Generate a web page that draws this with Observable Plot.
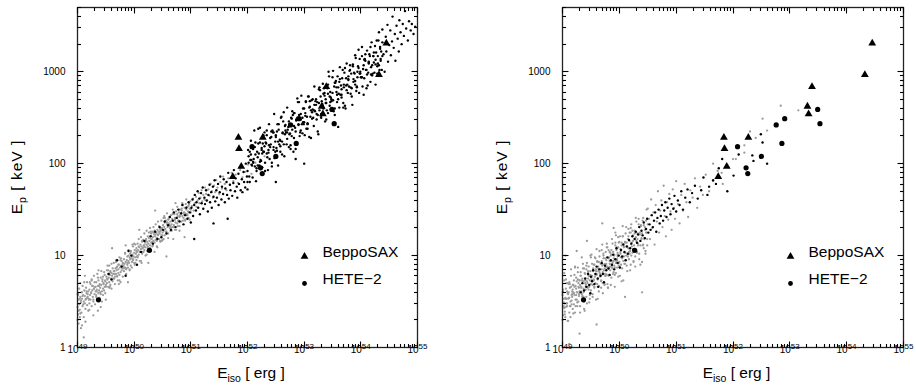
<!DOCTYPE html>
<html><head><meta charset="utf-8">
<script src="https://cdn.jsdelivr.net/npm/d3@7"></script>
<script src="https://cdn.jsdelivr.net/npm/@observablehq/plot@0.6"></script>
<style>
html,body{margin:0;padding:0;background:#fff}
#wrap{display:flex;width:916px;height:387px;overflow:hidden}
svg{display:block}
</style></head><body><div id="wrap"></div>
<script>
// ---- axis / tick text ----
const xTickExps = [49,50,51,52,53,54,55];      // labels 10^49 ... 10^55
const yTickVals = [1,10,100,1000];
const xLabelParts = ["E","iso"," [ erg ]"];
const yLabelParts = ["E","p"," [ keV ]"];
const legendItems = ["BeppoSAX","HETE\u22122"];

// ---- observed bursts: log10(Eiso/erg) and Ep (keV) ----
const beppoLogE = [51.74,51.84,51.85,51.89,52.27,53.31,53.33,53.39,54.32,54.45];
const beppoEp   = [72,193,145,93,193,420,347,687,927,2040];
const heteLogE  = [49.37,50.27,52.08,52.23,52.26,52.50,52.76,52.86,52.91,53.49,53.53];
const heteEp    = [3.3,11.4,153,90,78,120,264,166,309,389,272];

// ---- simulated bursts, read off the picture as
//      [100*(log10 Eiso - 49), 100*log10 Ep] ----
const leftGray = [[0,44],[1,58],[1,36],[2,52],[3,64],[3,47],[4,41],[5,55],[5,70],[6,49],[7,38],[7,60],[8,53],[9,45],[9,67],[10,57],[11,50],[11,33],[11,11],[12,62],[13,48],[13,56],[14,42],[15,65],[15,53],[16,59],[17,46],[17,71],[18,55],[19,40],[19,61],[20,52],
[0,30],[2,26],[4,33],[6,21],[8,24],[14,28],[28,35],[36,40],
[21,63],[21,48],[22,57],[23,69],[23,52],[24,60],[25,45],[25,74],[26,62],[27,55],[27,67],[28,50],[29,64],[29,78],[30,58],[31,66],[31,47],[32,61],[33,71],[33,55],[34,63],[35,52],[35,80],[36,67],[37,59],[37,73],[38,62],[39,54],[39,69],[40,65],[41,58],[41,76],[42,68],[43,61],[43,50],[44,72],[45,64],[45,57],[46,70],[47,62],[47,82],[48,66],[49,59],[49,73],[50,68],[50,52],
[51,77],[52,70],[52,84],[53,74],[54,66],[54,80],[55,76],[56,71],[56,89],[57,79],[58,68],[58,83],[59,75],[60,81],[60,64],[61,78],[62,86],[62,72],[63,80],[64,75],[64,92],[65,83],[66,77],[66,69],[67,86],[68,80],[68,95],[69,84],[70,78],[70,88],[71,73],[72,85],[72,81],[73,90],[74,79],[74,98],[75,87],[76,82],[76,71],[77,89],[78,84],[78,94],[79,86],[80,91],[80,77],[81,88],[82,96],[82,83],[83,91],[84,87],[84,103],[85,93],[86,85],[86,80],[87,95],[88,90],[88,99],[89,87],[90,94],[90,106],[91,92],[92,84],[92,98],[93,96],[94,89],[94,104],[95,97],[96,93],[96,87],[97,101],[98,95],[98,110],[99,99],[100,92],[100,103],
[101,106],[102,98],[102,112],[103,102],[104,95],[104,108],[105,104],[106,113],[106,99],[107,106],[108,101],[108,118],[109,109],[110,104],[110,94],[111,112],[112,107],[112,120],[113,110],[114,102],[114,115],[115,108],[116,117],[116,104],[117,111],[118,106],[118,124],[119,114],[120,109],[120,100],[121,117],[122,112],[122,127],[123,115],[124,108],[124,121],[125,113],[126,119],[126,105],[127,116],[128,111],[128,130],[129,121],[130,114],[130,124],[131,118],[132,110],[132,126],[133,120],[134,116],[134,131],[135,123],[136,114],[136,127],[137,121],[138,117],[138,134],[139,125],[140,119],[140,110],[141,128],[142,123],[142,137],[143,126],[144,118],[144,131],[145,124],[146,129],[146,115],[147,127],[148,122],[148,138],[149,130],[150,125],[150,117],
[151,133],[152,127],[152,141],[153,131],[154,122],[154,136],[155,129],[156,138],[157,126],[158,134],[158,146],[159,131],[160,124],[160,139],[161,135],[162,142],[163,130],[164,137],[164,127],[165,144],[166,134],[167,140],[168,131],[168,150],[169,138],[170,133],[171,145],[172,139],[172,128],[173,136],[174,148],[175,141],[176,135],[176,153],[177,143],[178,138],[179,147],[180,132],[180,142],[181,150],[182,145],[183,137],[184,149],[185,143],[186,155],[187,141],[188,147],[189,152],[190,139],[190,146],[191,156],[192,150],[193,144],[194,153],[195,148],[196,141],[197,156],[198,151],[199,159],[200,147],
[202,154],[204,162],[205,149],[207,157],[209,164],[210,153],[212,160],[214,168],[215,157],[217,163],[219,171],[220,159],[222,166],[224,161],[225,174],[227,167],[229,160],[231,172],[233,165],[235,178],[237,170],[239,163],[241,176],[243,169],[245,182],[247,174],[250,167],[252,180],[255,173],[257,186],[260,178],[263,171],[266,184],[269,177],[272,190],[275,181],[279,188],[283,179],[287,193],[291,185],[296,191],[301,199],[307,189],[314,201],[322,195],[330,208],
[0,58],[2,40],[4,53],[6,51],[8,60],[10,47],[12,71],[14,52],[16,61],[18,58],[20,53],[22,71],[24,59],[26,67],[28,52],[30,71],[32,66],[34,61],[36,76],[38,67],[40,60],[42,83],[44,74],[46,69],[48,79],[50,66],[52,75],[54,84],[56,65],[58,82],[60,91],[62,75],[64,83],[66,80],[68,93],[70,77],[72,90],[74,73],[76,95],[78,88],[80,92],[82,86],[84,102],[86,86],[88,92],[90,100],[92,85],[94,105],[96,99],[98,96],[100,113],[102,92],[104,105],[106,98],[108,110],[110,104],[112,94],[114,116],[116,104],[118,111],[120,116],[122,101],[124,110],[126,125],[128,108],[130,118],[132,115],[134,125],[136,104],[138,123],[140,116],[142,122],[144,132],[146,116],[148,129],[150,122],[152,118],[154,141],[156,126],[158,136],[160,119],[162,133],[164,132],[166,127],[168,145],[170,131],[172,141],[174,128],[176,145],[178,138],[180,127],[182,145],[184,151],[186,138],[188,145],[190,138],[192,161],[194,144],[196,154],[198,139],[200,150],
[1,57],[5,37],[9,56],[13,78],[17,54],[21,41],[25,73],[29,64],[33,57],[37,84],[41,44],[45,77],[49,72],[53,89],[57,66],[61,108],[65,75],[69,87],[73,69],[77,97],[81,89],[85,111],[89,71],[93,102],[97,112],[101,90],[105,99],[109,128],[113,92],[117,109],[121,118],[125,92],[129,126],[133,111],[137,149],[141,109],[145,126],[149,116],[153,143],[157,99],[161,140],[165,130],[169,118],[173,157],[177,132],[181,143],[185,157],[189,120],[193,145],[197,157]];

const leftBlack = [[112,104],[118,116],[124,105],[129,121],[133,113],[137,126],[141,118],[145,131],[148,120],[151,128],[154,137],[157,124],[160,133],[163,142],[165,128],[168,138],[170,147],[173,131],[175,141],[178,150],[180,137],[183,146],[185,155],[187,134],[190,144],[192,152],[194,140],[196,158],[198,147],[200,136],
[55,80],[70,95],[85,78],[95,100],[105,90],[60,74],[78,88],[90,105],[206,118],[240,135],[265,140],[400,200],[385,205],[350,180],[460,240],
[201,152],[203,161],[204,143],[206,155],[207,166],[209,149],[210,158],[212,170],[213,152],[215,162],[216,145],[218,168],[219,157],[221,174],[222,151],[224,163],[225,156],[227,171],[228,160],[230,148],[231,166],[233,177],[234,158],[236,169],[237,152],[239,175],[240,164],[242,182],[243,159],[245,171],[246,163],[248,178],[249,155],[251,169],[252,186],[254,161],[255,175],[257,167],[258,183],[260,158],[261,173],[263,180],[264,166],[266,190],[267,162],[269,177],[270,171],[272,185],[273,165],[275,179],[276,193],[278,170],[279,184],[281,175],[282,163],[284,189],[285,178],[287,196],[288,171],[290,183],[291,169],[293,191],[294,180],[296,174],[297,200],[299,186],[300,172],[300,192],
[302,208],[303,186],[305,204],[306,225],[307,199],[309,185],[310,216],[311,205],[313,197],[314,223],[315,181],[317,213],[318,207],[319,222],[321,198],[322,239],[323,204],[325,215],[326,196],[327,222],[329,213],[330,234],[331,192],[333,222],[334,231],[335,207],[337,215],[338,243],[339,205],[341,221],[342,229],[343,201],[345,234],[346,218],[347,254],[349,213],[350,229],[351,217],[353,243],[354,198],
[355,237],[357,226],[358,213],[359,250],[361,224],[362,234],[363,246],[365,208],[366,232],[367,242],[369,221],[370,261],[371,237],[373,218],[374,243],[375,233],[377,250],[378,230],[379,257],[381,213],[382,241],[383,255],[385,235],[386,248],[387,222],[389,267],[390,242],[391,253],[393,234],[394,248],[395,274],[397,233],[398,260],[399,243],[401,231],[402,255],[403,267],[405,251],[406,243],[407,273],
[409,229],[410,262],[411,251],[413,269],[414,249],[415,259],[417,241],[418,284],[419,257],[421,270],[422,248],[423,267],[425,232],[426,281],[427,258],[429,273],[430,254],[431,268],[433,287],[434,260],[435,282],[437,246],[438,270],[439,266],[441,282],[442,255],[443,300],[445,263],[446,278],[447,272],[449,260],[450,294],[451,269],[453,284],[454,253],[455,288],[457,278],[458,267],[459,295],[461,276],
[462,261],[463,305],[465,285],[466,275],[467,293],[469,266],[470,283],[471,299],[473,260],[474,293],[475,309],[477,277],[478,291],[479,284],[481,307],[482,276],[483,298],[485,264],[486,306],[487,292],[489,298],[490,286],[491,315],[493,283],[494,294],[495,306],[497,277],[498,314],[499,300],[501,294],[502,327],[503,284],[505,307],[506,293],[507,314],[509,302],[510,282],[511,323],[513,299],[514,310],
[515,319],[517,289],[518,305],[519,332],[521,298],[522,317],[523,310],[525,328],[526,286],[527,321],[529,306],[530,317],[531,334],[533,302],[534,327],[535,312],[537,302],[538,346],
[300,180],[304,213],[308,198],[312,236],[316,195],[320,211],[324,203],[328,231],[332,223],[336,193],[340,218],[344,236],[348,206],[352,235],[356,221],[360,251],[364,221],[368,234],[372,240],[376,216],[380,253],[384,239],[388,271],[392,230],[396,243],[400,260],[404,238],[408,273],[412,258],[416,250],[420,268],[424,235],[428,280],[432,265],[436,274],[440,258],[444,295],[448,270],[452,257],[456,290],[460,283],[464,275],[468,302],[472,263],[476,286],[480,301],[484,282],[488,299],[492,279],[496,324],[500,294],[504,303],[508,319],[512,285],[516,317],[520,307],[524,299],[528,334],[532,307],[536,322],[540,319],
[302,201],[306,210],[310,201],[314,210],[318,198],[322,223],[326,211],[330,219],[334,211],[338,220],[342,235],[346,215],[350,231],[354,224],[358,219],[362,233],[366,241],[370,234],[374,232],[378,249],[382,228],[386,247],[390,243],[394,254],[398,245],[402,252],[406,244],[410,268],[414,256],[418,264],[422,254],[426,266],[430,250],[434,276],[438,266],[442,276],[446,267],[450,277],[454,288],[458,275],[462,289],[466,272],[470,286],[474,285],[478,295],[482,283],[486,308],[490,290],[494,300],[498,298],[502,294],[506,313],[510,302],[514,311],[518,297],[522,317],[526,313],[530,309],[534,325],[538,317],
[301,215],[304,180],[307,204],[310,202],[313,218],[316,192],[319,238],[322,202],[325,217],[328,213],[331,201],[334,236],[337,212],[340,228],[343,197],[346,234],[349,224],[352,214],[355,243],[358,225],[361,210],[364,256],[367,236],[370,227],[373,246],[376,220],[379,237],[382,255],[385,216],[388,250],[391,267],[394,236],[397,250],[400,245],[403,268],[406,238],[409,261],[412,228],[415,270],[418,258],[421,264],[424,253],[427,283],[430,252],[433,263],[436,277],[439,248],[442,286],[445,273],[448,268],[451,301],[454,260],[457,283],[460,270],[463,292],[466,281],[469,261],[472,304],[475,280],[478,292],[481,302],[484,273],[487,289],[490,318],[493,284],[496,304],[499,298],[502,317],[505,275],[508,312],[511,297],[514,309],[517,327],[520,296],[523,321],[526,308],[529,298],[532,343],[535,314],[538,332],
[542,300],[544,338],[545,322],[547,351],[548,311],[550,329],[552,345],[553,318],[555,333],[556,360],[558,326],[560,341],[561,312],[563,350],[565,336],[567,322],[568,356],[570,343],[572,330],[574,352],[576,339],[578,366],[580,347],[583,334],[585,355],[588,345],[590,352],[593,341],[596,349]];

const rightGray = [[0,57],[1,35],[2,53],[3,73],[4,48],[5,33],[6,64],[7,53],[8,45],[9,70],[10,29],[11,60],[12,54],[13,69],[14,45],[15,85],[16,51],[17,61],[18,42],[19,68],[20,59],[21,79],[22,38],[23,67],[24,76],[25,52],[26,60],[27,87],[28,50],[29,65],[30,73],[31,45],[32,78],[33,61],[34,98],[35,56],[36,72],[37,60],[38,86],[39,40],[40,80],[41,68],[42,55],[43,92],[44,66],[45,75],[46,88],[47,49],[48,73],[49,83],[50,62],[51,101],[52,78],[53,58],[54,83],[55,73],[56,90],[57,69],[58,97],[59,52],[60,80],[61,94],[62,74],[63,86],[64,61],[65,105],[66,80],[67,91],[68,72],[69,85],[70,112],[71,70],[72,97],[73,80],[74,68],[75,91],[76,104],[77,87],[78,79],[79,109],[80,65],[81,97],[82,87],[83,104],[84,84],[85,94],[86,76],[87,118],[88,92],[89,104],[90,82],[91,101],[92,66],[93,114],[94,92],[95,106],[96,87],[97,101],[98,120],[99,92],[100,115],[101,78],[102,102],[103,98],[104,114],[105,86],[106,132],[107,94],[108,109],[109,103],[110,91],[111,124],[112,100],[113,114],[114,83],[115,118],[116,108],[117,96],[118,125],[119,105],[120,90],[121,134],[122,114],[123,103],[124,122],[125,94],[126,111],[127,127],[128,88],[129,120],[130,137],[131,104],[132,118],[133,111],[134,134],[135,102],[136,125],[137,90],[138,132],[139,118],[140,124],[141,111],[142,141],[143,108],[144,119],[145,131],[146,102],[147,138],[148,125],[149,118],[150,151],
[0,30],[1,61],[2,45],[3,81],[4,39],[5,53],[6,44],[7,70],[8,61],[9,29],[10,53],[11,69],[12,38],[13,65],[14,50],[15,78],[16,47],[17,58],[18,63],[19,37],[20,73],[21,57],[22,88],[23,45],[24,57],[25,72],[26,49],[27,82],[28,66],[29,56],[30,73],[31,38],[32,82],[33,65],[34,73],[35,55],[36,91],[37,64],[38,50],[39,81],[40,73],[41,63],[42,89],[43,48],[44,70],[45,83],[46,63],[47,78],[48,57],[49,100],[50,69],[51,76],[52,91],[53,55],[54,86],[55,74],[56,65],[57,98],[58,70],[59,83],[60,79],[61,93],[62,53],[63,88],[64,67],[65,99],[66,78],[67,85],[68,73],[69,106],[70,91],[71,59],[72,100],[73,84],[74,69],[75,97],[76,80],[77,91],[78,113],[79,69],[80,86],[81,106],[82,79],[83,91],[84,103],[85,68],[86,101],[87,87],[88,113],[89,80],[90,94],[91,100],[92,87],[93,125],[94,81],[95,109],[96,95],[97,99],[98,77],[99,114],[100,93],[101,121],[102,104],[103,90],[104,111],[105,97],[106,121],[107,73],[108,110],[109,91],[110,115],[111,103],[112,131],[113,89],[114,109],[115,99],[116,121],[117,104],[118,116],[119,84],[120,130],[121,100],[122,110],[123,127],[124,116],[125,93],[126,107],[127,124],[128,99],[129,141],[130,116],[131,103],[132,124],[133,113],[134,140],[135,96],[136,123],[137,111],[138,133],[139,119],[140,93],[141,138],[142,112],[143,133],[144,118],[145,128],[146,105],[147,125],[148,150],[149,111],[150,134],
[1,63],[3,43],[5,54],[7,48],[9,59],[11,54],[13,45],[15,66],[17,55],[19,60],[21,66],[23,52],[25,60],[27,74],[29,58],[31,68],[33,66],[35,75],[37,55],[39,73],[41,66],[43,72],[45,81],[47,66],[49,79],[51,73],[53,68],[55,90],[57,77],[59,85],[61,69],[63,83],[65,82],[67,78],[69,94],[71,82],[73,90],[75,78],[77,95],[79,88],[81,78],[83,94],[85,100],[87,89],[89,94],[91,89],[93,111],[95,94],[97,103],[99,89],
[0,60],[2,49],[4,36],[6,74],[8,48],[10,58],[12,71],[14,33],[16,57],[18,68],[20,47],[22,87],[24,64],[26,45],[28,70],[30,61],[32,78],[34,58],[36,86],[38,42],[40,70],[42,85],[44,65],[46,78],[48,53],[50,98],[52,73],[54,85],[56,66],[58,80],[60,107],[62,66],[64,93],[66,77],[68,65],[70,89],[72,102],[74,86],[76,78],[78,109],[80,65],[82,98],[84,88],[86,106],[88,86],[90,97],[92,79],[94,122],[96,96],[98,109],[100,87],[102,107],[104,72],[106,121],[108,99],[110,114],[112,95],[114,110],[116,129],[118,102],[120,125],
[152,140],[154,118],[156,161],[158,130],[160,147],[162,112],[164,155],[166,137],[168,170],[170,125],[172,149],[174,160],[176,131],[178,176],[180,143],[182,121],[184,158],[186,139],[188,167],[190,148],[192,128],[194,172],[196,152],[198,140],[200,181],[203,156],[206,135],[209,166],[212,149],[215,178],[218,158],[221,142],[225,171],[229,163],[233,184],[237,152],[242,175],[247,166],[252,188],[258,170],[265,181],[273,192],[282,178],[292,196],[305,205],[320,212],[340,228],
[43,116],[12,4],[30,15],[60,25],[90,130],[25,105],[140,60],[70,135],[110,55],[5,100],
[384,263],[352,249],[415,258],[330,235],[300,205],[280,190],[320,220],[265,200],[360,236]];

const rightBlack = [[32,60],[35,70],[38,62],[40,75],[42,66],[45,80],[47,68],[49,59],[50,77],[52,72],[54,84],[56,69],[58,80],[60,88],[62,75],[63,66],[65,85],[67,78],[69,92],[71,80],[73,71],[75,89],[77,84],[79,98],[81,86],[83,79],[85,95],[87,90],[89,101],[91,85],[93,96],[95,108],[97,92],[99,100],[101,87],[103,106],[105,99],[107,112],[109,104],[111,95],[113,110],[115,102],[117,117],[119,108],
[121,113],[123,121],[125,107],[127,118],[129,126],[131,114],[133,123],[135,131],[137,116],[139,127],[141,122],[143,136],[145,119],[147,129],[149,140],[151,125],[153,134],[155,128],[157,144],[159,131],[161,138],[163,147],[165,126],[167,141],[169,150],[171,135],[173,143],[175,155],[177,138],[179,149],[181,158],[183,142],[185,152],[188,162],[190,145],[192,156],[195,151],[197,165],[200,148],[203,160],[206,155],[209,170],[212,150],[216,163],[220,172],[224,158],[228,168],[233,176],[238,162],[244,171],
[349,232],[352,223],[334,209],[336,203],[360,200],[301,187],[281,205],[265,182],[258,175],[290,170],[275,195],[310,210],[248,185],[255,166],[270,178]];

// ---- build tables ----
const toPts = a => a.map(([u, v]) => ({e: 10 ** (49 + u / 100), p: 10 ** (v / 100)}));
const beppo = beppoLogE.map((l, i) => ({e: 10 ** l, p: beppoEp[i]}));
const hete = heteLogE.map((l, i) => ({e: 10 ** l, p: heteEp[i]}));
const xMajor = xTickExps.map(e => 10 ** e);
const xMinor = xTickExps.slice(0, -1).flatMap(e => d3.range(2, 10).map(m => m * 10 ** e));
const yMinor = yTickVals.flatMap(b => d3.range(2, 10).map(m => m * b)).filter(v => v <= 5000);

const W = 458, H = 387, MT = 7, MB = 40;
const FONT = '"Liberation Sans", Arial, Helvetica, sans-serif';

function panel(gray, black, ml, mr) {
  const iw = W - ml - mr, ih = H - MT - MB;
  const svg = Plot.plot({
    width: W, height: H, marginLeft: ml, marginRight: mr, marginTop: MT, marginBottom: MB,
    x: {type: "log", domain: [1e49, 1e55], axis: null},
    y: {type: "log", domain: [1, 5000], axis: null},
    style: {fontFamily: FONT, background: "#fff", color: "#000", overflow: "visible"},
    marks: [
      Plot.dot(toPts(gray), {x: "e", y: "p", r: 1.15, fill: "#9c9c9c"}),
      Plot.dot(toPts(black), {x: "e", y: "p", r: 1.2, fill: "#000"}),
      Plot.dot(beppo, {x: "e", y: "p", symbol: "triangle", r: 2.9, fill: "#000"}),
      Plot.dot(hete, {x: "e", y: "p", r: 2.6, fill: "#000"}),
      Plot.frame({stroke: "#222", strokeWidth: 1.3}),
      Plot.text(xTickExps, {x: e => 10 ** e, text: () => "10", frameAnchor: "bottom", textAnchor: "end", dx: 1, dy: 5, fontSize: 10, fill: "#000"}),
      Plot.text(xTickExps, {x: e => 10 ** e, text: e => String(e), frameAnchor: "bottom", textAnchor: "start", dx: 1, dy: 1, fontSize: 8, fill: "#000"}),
      Plot.text(yTickVals, {y: d => d, text: d => String(d), frameAnchor: "left", textAnchor: "end", dx: -12, fontSize: 10, fill: "#000"}),
      Plot.dot([legendItems[0]], {frameAnchor: "bottom-right", dx: -113, dy: -91, symbol: "triangle", r: 2.9, fill: "#000"}),
      Plot.dot([legendItems[1]], {frameAnchor: "bottom-right", dx: -113, dy: -64, r: 2.4, fill: "#000"}),
      Plot.text([legendItems[0]], {text: d => d, frameAnchor: "bottom-right", dx: -95, dy: -91, textAnchor: "start", fontSize: 15.5, fill: "#000"}),
      Plot.text([legendItems[1]], {text: d => d, frameAnchor: "bottom-right", dx: -95, dy: -64, textAnchor: "start", fontSize: 15.5, fill: "#000"})
    ]
  });
  const s = d3.select(svg);
  // inward ticks on all four sides, positioned through the plot's own scales
  const xs = svg.scale("x"), ys = svg.scale("y");
  const sx = d3.scaleLog().domain(xs.domain).range(xs.range);
  const sy = d3.scaleLog().domain(ys.domain).range(ys.range);
  const top = MT, bot = H - MB, lft = ml, rgt = W - mr;
  const g = s.append("g").attr("stroke", "#000").attr("stroke-width", 1.1).attr("transform", "translate(0.5,0.5)");
  const seg = (x1, y1, x2, y2) => g.append("line").attr("x1", x1).attr("y1", y1).attr("x2", x2).attr("y2", y2);
  const rx = v => Math.round(sx(v)), ry = v => Math.round(sy(v));
  xMajor.forEach(v => { seg(rx(v), bot, rx(v), bot - 6); seg(rx(v), top, rx(v), top + 6); });
  xMinor.forEach(v => { seg(rx(v), bot, rx(v), bot - 3.5); seg(rx(v), top, rx(v), top + 3.5); });
  yTickVals.forEach(v => { seg(lft, ry(v), lft + 6, ry(v)); seg(rgt, ry(v), rgt - 6, ry(v)); });
  yMinor.forEach(v => { seg(lft, ry(v), lft + 3.5, ry(v)); seg(rgt, ry(v), rgt - 3.5, ry(v)); });

  const xl = s.append("text").attr("x", ml + iw / 2 + 4).attr("y", 378)
    .attr("text-anchor", "middle").attr("font-size", 15.5).attr("fill", "#000")
    .attr("font-family", FONT).style("white-space", "pre");
  xl.append("tspan").text(xLabelParts[0]);
  xl.append("tspan").attr("font-size", 10.5).attr("dy", 4).text(xLabelParts[1]);
  xl.append("tspan").attr("dy", -4).text(xLabelParts[2]);
  const yl = s.append("text").attr("transform", `translate(${ml - 55},${MT + ih / 2}) rotate(-90)`)
    .attr("text-anchor", "middle").attr("font-size", 15.5).attr("fill", "#000")
    .attr("font-family", FONT).attr("letter-spacing", 1).style("white-space", "pre");
  yl.append("tspan").text(yLabelParts[0]);
  yl.append("tspan").attr("font-size", 10.5).attr("dy", 4).text(yLabelParts[1]);
  yl.append("tspan").attr("dy", -4).text(yLabelParts[2]);
  return svg;
}

const wrap = document.getElementById("wrap");
wrap.appendChild(panel(leftGray, leftBlack, 77, 41));
wrap.appendChild(panel(rightGray, rightBlack, 104, 13));
</script>
</body></html>
